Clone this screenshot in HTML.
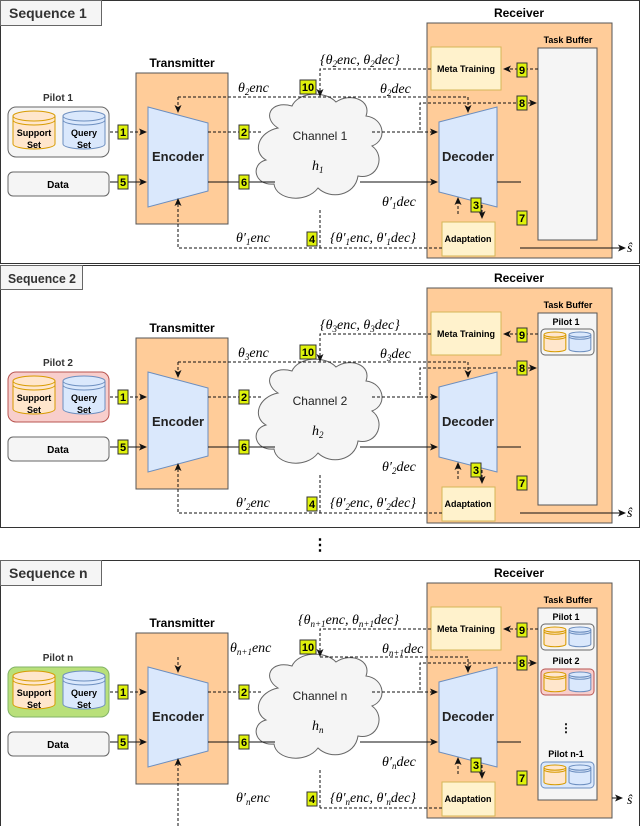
<!DOCTYPE html>
<html><head><meta charset="utf-8"><style>
html,body{margin:0;padding:0;background:#fff}
svg{display:block}
text{font-family:"Liberation Sans",sans-serif}
.b{font-weight:bold}
.m{font-family:"Liberation Serif",serif;font-style:italic;font-size:14px}
.d{stroke:#111;stroke-width:1;stroke-dasharray:3,2;fill:none}
.s{stroke:#111;stroke-width:1;fill:none}
.bg{fill:#dff20b;stroke:#333;stroke-width:1}
</style></head><body>
<svg width="640" height="826" viewBox="0 0 640 826" xmlns="http://www.w3.org/2000/svg">
<defs>
<marker id="a" markerWidth="8" markerHeight="8" refX="7" refY="4" orient="auto" markerUnits="userSpaceOnUse"><path d="M0,0.5 L8,4 L0,7.5 L2,4 z" fill="#111"/></marker>
<g id="cyl">
<path d="M0,5 v28 a21,5 0 0 0 42,0 v-28" />
<ellipse cx="21" cy="5" rx="21" ry="5"/>
<path d="M0,9 a21,5 0 0 0 42,0" fill="none"/>
</g>
<g id="cloud"><path d="M278,128 C262,118 270,100 292,106 C298,92 325,90 336,102 C350,92 372,100 366,116 C384,118 388,140 372,146 C386,156 378,180 358,176 C355,196 330,200 318,188 C306,204 276,200 274,184 C254,186 250,164 266,160 C252,152 258,132 278,128 z" fill="#f5f5f5" stroke="#666"/></g>
</defs>

<rect x="0.5" y="0.5" width="639" height="263" fill="#fff" stroke="#333"/>
<rect x="0.5" y="265.5" width="639" height="262" fill="#fff" stroke="#333"/>
<path d="M0.5,826 V560.5 H639.5 V826" fill="#fff" stroke="#333"/>
<text x="320" y="550" text-anchor="middle" font-size="16" class="b">⋮</text>

<!-- Section 1 -->
<g transform="translate(0,0)">
<rect x="0.5" y="0.5" width="101" height="25" fill="#f5f5f5" stroke="#666"/>
<text x="9" y="18" font-size="14" class="b" fill="#333">Sequence 1</text>
<text x="182" y="67" font-size="12" class="b" text-anchor="middle">Transmitter</text>
<rect x="136" y="73" width="92" height="151" fill="#ffcc99" stroke="#555"/>
<path d="M148,107 L208,123 L208,191 L148,207 z" fill="#dae8fc" stroke="#6c8ebf"/>
<text x="178" y="161" font-size="13" class="b" text-anchor="middle" fill="#222">Encoder</text>
<text x="58" y="101" font-size="10" class="b" text-anchor="middle" fill="#333">Pilot 1</text>
<rect x="8" y="107" width="101" height="50" rx="8" fill="#f5f5f5" stroke="#666"/>
<g transform="translate(13,111)" fill="#ffe6cc" stroke="#d79b00"><use href="#cyl"/></g>
<g transform="translate(63,111)" fill="#dae8fc" stroke="#6c8ebf"><use href="#cyl"/></g>
<text x="34" y="136" font-size="9" class="b" text-anchor="middle">Support</text><text x="34" y="148" font-size="9" class="b" text-anchor="middle">Set</text>
<text x="84" y="136" font-size="9" class="b" text-anchor="middle">Query</text><text x="84" y="148" font-size="9" class="b" text-anchor="middle">Set</text>
<rect x="8" y="172" width="101" height="24" rx="5" fill="#f5f5f5" stroke="#666"/>
<text x="58" y="188" font-size="10" class="b" text-anchor="middle">Data</text>
<use href="#cloud"/>
<text x="320" y="140" font-size="12" text-anchor="middle" fill="#222">Channel 1</text>
<text x="312" y="170" class="m">h<tspan font-size="9" dy="3">1</tspan></text>
<rect x="427" y="23" width="185" height="235" fill="#ffcc99" stroke="#555"/>
<text x="519" y="17" font-size="12" class="b" text-anchor="middle">Receiver</text>
<rect x="431" y="47" width="70" height="43" fill="#fff2cc" stroke="#d6b656"/>
<text x="466" y="72" font-size="9" class="b" text-anchor="middle">Meta Training</text>
<text x="568" y="43" font-size="9" class="b" text-anchor="middle">Task Buffer</text>
<rect x="538" y="48" width="59" height="192" fill="#f5f5f5" stroke="#555"/>
<path d="M439,122 L497,107 L497,207 L439,192 z" fill="#dae8fc" stroke="#6c8ebf"/>
<text x="468" y="161" font-size="13" class="b" text-anchor="middle" fill="#222">Decoder</text>
<rect x="442" y="222" width="53" height="34" fill="#fff2cc" stroke="#d6b656"/>
<text x="468" y="242" font-size="9" class="b" text-anchor="middle">Adaptation</text>
<path class="d" d="M110,132 H146" marker-end="url(#a)"/>
<path class="s" d="M110,182 H146" marker-end="url(#a)"/>
<path class="d" d="M208,132 H262"/>
<path class="s" d="M208,182 H275"/>
<path class="d" d="M372,132 H420 V103 H536" marker-end="url(#a)"/>
<path class="d" d="M420,132 H437" marker-end="url(#a)"/>
<path class="s" d="M360,182 H437" marker-end="url(#a)"/>
<path class="s" d="M497,182 H521"/>
<path class="s" d="M520,248 H625" marker-end="url(#a)"/>
<text x="627" y="252" class="m">ŝ</text>
<path class="d" d="M538,69 H504" marker-end="url(#a)"/>
<path class="d" d="M431,69 H320 V96" marker-end="url(#a)"/>
<path class="d" d="M178,97 H468 V112" marker-end="url(#a)"/>
<path class="d" d="M178,97 V112" marker-end="url(#a)"/>
<path class="d" d="M458,214 V198" marker-end="url(#a)"/>
<path class="d" d="M482,205 V218" marker-end="url(#a)"/>
<path class="d" d="M442,248 H320 H178 V199" marker-end="url(#a)"/>
<path class="d" d="M320,210 V248"/>
<text x="238" y="92" class="m">θ<tspan font-size="9" dy="3">2</tspan><tspan dy="-3">enc</tspan></text>
<text x="380" y="93" class="m">θ<tspan font-size="9" dy="3">2</tspan><tspan dy="-3">dec</tspan></text>
<text x="320" y="64" class="m">{θ<tspan font-size="9" dy="3">2</tspan><tspan dy="-3">enc, θ</tspan><tspan font-size="9" dy="3">2</tspan><tspan dy="-3">dec}</tspan></text>
<text x="382" y="206" class="m">θ′<tspan font-size="9" dy="3">1</tspan><tspan dy="-3">dec</tspan></text>
<text x="236" y="242" class="m">θ′<tspan font-size="9" dy="3">1</tspan><tspan dy="-3">enc</tspan></text>
<text x="330" y="242" class="m">{θ′<tspan font-size="9" dy="3">1</tspan><tspan dy="-3">enc, θ′</tspan><tspan font-size="9" dy="3">1</tspan><tspan dy="-3">dec}</tspan></text>
<g font-size="11" class="b">
<rect class="bg" x="118" y="125" width="10" height="14"/><text x="123" y="136" text-anchor="middle">1</text>
<rect class="bg" x="118" y="175" width="10" height="14"/><text x="123" y="186" text-anchor="middle">5</text>
<rect class="bg" x="239" y="125" width="10" height="14"/><text x="244" y="136" text-anchor="middle">2</text>
<rect class="bg" x="239" y="175" width="10" height="14"/><text x="244" y="186" text-anchor="middle">6</text>
<rect class="bg" x="300" y="80" width="16" height="14"/><text x="308" y="91" text-anchor="middle">10</text>
<rect class="bg" x="307" y="232" width="10" height="14"/><text x="312" y="243" text-anchor="middle">4</text>
<rect class="bg" x="517" y="63" width="10" height="14"/><text x="522" y="74" text-anchor="middle">9</text>
<rect class="bg" x="517" y="96" width="10" height="14"/><text x="522" y="107" text-anchor="middle">8</text>
<rect class="bg" x="517" y="211" width="10" height="14"/><text x="522" y="222" text-anchor="middle">7</text>
<rect class="bg" x="471" y="198" width="10" height="14"/><text x="476" y="209" text-anchor="middle">3</text>
</g>
</g>

<!-- Section 2 -->
<g transform="translate(0,265)">
<rect x="0.5" y="0.5" width="82" height="24" fill="#f5f5f5" stroke="#666"/>
<text x="8" y="18" font-size="13" class="b" fill="#333" textLength="68" lengthAdjust="spacingAndGlyphs">Sequence 2</text>
<text x="182" y="67" font-size="12" class="b" text-anchor="middle">Transmitter</text>
<rect x="136" y="73" width="92" height="151" fill="#ffcc99" stroke="#555"/>
<path d="M148,107 L208,123 L208,191 L148,207 z" fill="#dae8fc" stroke="#6c8ebf"/>
<text x="178" y="161" font-size="13" class="b" text-anchor="middle" fill="#222">Encoder</text>
<text x="58" y="101" font-size="10" class="b" text-anchor="middle" fill="#333">Pilot 2</text>
<rect x="8" y="107" width="101" height="50" rx="8" fill="#f8cecc" stroke="#b85450"/>
<g transform="translate(13,111)" fill="#ffe6cc" stroke="#d79b00"><use href="#cyl"/></g>
<g transform="translate(63,111)" fill="#dae8fc" stroke="#6c8ebf"><use href="#cyl"/></g>
<text x="34" y="136" font-size="9" class="b" text-anchor="middle">Support</text><text x="34" y="148" font-size="9" class="b" text-anchor="middle">Set</text>
<text x="84" y="136" font-size="9" class="b" text-anchor="middle">Query</text><text x="84" y="148" font-size="9" class="b" text-anchor="middle">Set</text>
<rect x="8" y="172" width="101" height="24" rx="5" fill="#f5f5f5" stroke="#666"/>
<text x="58" y="188" font-size="10" class="b" text-anchor="middle">Data</text>
<use href="#cloud"/>
<text x="320" y="140" font-size="12" text-anchor="middle" fill="#222">Channel 2</text>
<text x="312" y="170" class="m">h<tspan font-size="9" dy="3">2</tspan></text>
<rect x="427" y="23" width="185" height="235" fill="#ffcc99" stroke="#555"/>
<text x="519" y="17" font-size="12" class="b" text-anchor="middle">Receiver</text>
<rect x="431" y="47" width="70" height="43" fill="#fff2cc" stroke="#d6b656"/>
<text x="466" y="72" font-size="9" class="b" text-anchor="middle">Meta Training</text>
<text x="568" y="43" font-size="9" class="b" text-anchor="middle">Task Buffer</text>
<rect x="538" y="48" width="59" height="192" fill="#f5f5f5" stroke="#555"/>
<text x="566" y="60" font-size="9" class="b" text-anchor="middle">Pilot 1</text>
<rect x="541" y="64" width="53" height="26" rx="4" fill="#f5f5f5" stroke="#666"/>
<g transform="translate(544,67) scale(0.52)" fill="#ffe6cc" stroke="#d79b00" stroke-width="2"><use href="#cyl"/></g>
<g transform="translate(569,67) scale(0.52)" fill="#dae8fc" stroke="#6c8ebf" stroke-width="2"><use href="#cyl"/></g>
<path d="M439,122 L497,107 L497,207 L439,192 z" fill="#dae8fc" stroke="#6c8ebf"/>
<text x="468" y="161" font-size="13" class="b" text-anchor="middle" fill="#222">Decoder</text>
<rect x="442" y="222" width="53" height="34" fill="#fff2cc" stroke="#d6b656"/>
<text x="468" y="242" font-size="9" class="b" text-anchor="middle">Adaptation</text>
<path class="d" d="M110,132 H146" marker-end="url(#a)"/>
<path class="s" d="M110,182 H146" marker-end="url(#a)"/>
<path class="d" d="M208,132 H262"/>
<path class="s" d="M208,182 H275"/>
<path class="d" d="M372,132 H420 V103 H536" marker-end="url(#a)"/>
<path class="d" d="M420,132 H437" marker-end="url(#a)"/>
<path class="s" d="M360,182 H437" marker-end="url(#a)"/>
<path class="s" d="M497,182 H521"/>
<path class="s" d="M520,248 H625" marker-end="url(#a)"/>
<text x="627" y="252" class="m">ŝ</text>
<path class="d" d="M538,69 H504" marker-end="url(#a)"/>
<path class="d" d="M431,69 H320 V96" marker-end="url(#a)"/>
<path class="d" d="M178,97 H468 V112" marker-end="url(#a)"/>
<path class="d" d="M178,97 V112" marker-end="url(#a)"/>
<path class="d" d="M458,214 V198" marker-end="url(#a)"/>
<path class="d" d="M482,205 V218" marker-end="url(#a)"/>
<path class="d" d="M442,248 H178 V199" marker-end="url(#a)"/>
<path class="d" d="M320,210 V248"/>
<text x="238" y="92" class="m">θ<tspan font-size="9" dy="3">3</tspan><tspan dy="-3">enc</tspan></text>
<text x="380" y="93" class="m">θ<tspan font-size="9" dy="3">3</tspan><tspan dy="-3">dec</tspan></text>
<text x="320" y="64" class="m">{θ<tspan font-size="9" dy="3">3</tspan><tspan dy="-3">enc, θ</tspan><tspan font-size="9" dy="3">3</tspan><tspan dy="-3">dec}</tspan></text>
<text x="382" y="206" class="m">θ′<tspan font-size="9" dy="3">2</tspan><tspan dy="-3">dec</tspan></text>
<text x="236" y="242" class="m">θ′<tspan font-size="9" dy="3">2</tspan><tspan dy="-3">enc</tspan></text>
<text x="330" y="242" class="m">{θ′<tspan font-size="9" dy="3">2</tspan><tspan dy="-3">enc, θ′</tspan><tspan font-size="9" dy="3">2</tspan><tspan dy="-3">dec}</tspan></text>
<g font-size="11" class="b">
<rect class="bg" x="118" y="125" width="10" height="14"/><text x="123" y="136" text-anchor="middle">1</text>
<rect class="bg" x="118" y="175" width="10" height="14"/><text x="123" y="186" text-anchor="middle">5</text>
<rect class="bg" x="239" y="125" width="10" height="14"/><text x="244" y="136" text-anchor="middle">2</text>
<rect class="bg" x="239" y="175" width="10" height="14"/><text x="244" y="186" text-anchor="middle">6</text>
<rect class="bg" x="300" y="80" width="16" height="14"/><text x="308" y="91" text-anchor="middle">10</text>
<rect class="bg" x="307" y="232" width="10" height="14"/><text x="312" y="243" text-anchor="middle">4</text>
<rect class="bg" x="517" y="63" width="10" height="14"/><text x="522" y="74" text-anchor="middle">9</text>
<rect class="bg" x="517" y="96" width="10" height="14"/><text x="522" y="107" text-anchor="middle">8</text>
<rect class="bg" x="517" y="211" width="10" height="14"/><text x="522" y="222" text-anchor="middle">7</text>
<rect class="bg" x="471" y="198" width="10" height="14"/><text x="476" y="209" text-anchor="middle">3</text>
</g>
</g>

<!-- Section n -->
<g transform="translate(0,560)">
<rect x="0.5" y="0.5" width="101" height="25" fill="#f5f5f5" stroke="#666"/>
<text x="9" y="18" font-size="14" class="b" fill="#333">Sequence n</text>
<text x="182" y="67" font-size="12" class="b" text-anchor="middle">Transmitter</text>
<rect x="136" y="73" width="92" height="151" fill="#ffcc99" stroke="#555"/>
<path d="M148,107 L208,123 L208,191 L148,207 z" fill="#dae8fc" stroke="#6c8ebf"/>
<text x="178" y="161" font-size="13" class="b" text-anchor="middle" fill="#222">Encoder</text>
<text x="58" y="101" font-size="10" class="b" text-anchor="middle" fill="#333">Pilot n</text>
<rect x="8" y="107" width="101" height="50" rx="8" fill="#b9e07a" stroke="#82b366"/>
<g transform="translate(13,111)" fill="#ffe6cc" stroke="#d79b00"><use href="#cyl"/></g>
<g transform="translate(63,111)" fill="#dae8fc" stroke="#6c8ebf"><use href="#cyl"/></g>
<text x="34" y="136" font-size="9" class="b" text-anchor="middle">Support</text><text x="34" y="148" font-size="9" class="b" text-anchor="middle">Set</text>
<text x="84" y="136" font-size="9" class="b" text-anchor="middle">Query</text><text x="84" y="148" font-size="9" class="b" text-anchor="middle">Set</text>
<rect x="8" y="172" width="101" height="24" rx="5" fill="#f5f5f5" stroke="#666"/>
<text x="58" y="188" font-size="10" class="b" text-anchor="middle">Data</text>
<use href="#cloud"/>
<text x="320" y="140" font-size="12" text-anchor="middle" fill="#222">Channel n</text>
<text x="312" y="170" class="m">h<tspan font-size="9" dy="3">n</tspan></text>
<rect x="427" y="23" width="185" height="235" fill="#ffcc99" stroke="#555"/>
<text x="519" y="17" font-size="12" class="b" text-anchor="middle">Receiver</text>
<rect x="431" y="47" width="70" height="43" fill="#fff2cc" stroke="#d6b656"/>
<text x="466" y="72" font-size="9" class="b" text-anchor="middle">Meta Training</text>
<text x="568" y="43" font-size="9" class="b" text-anchor="middle">Task Buffer</text>
<rect x="538" y="48" width="59" height="192" fill="#f5f5f5" stroke="#555"/>
<text x="566" y="60" font-size="9" class="b" text-anchor="middle">Pilot 1</text>
<rect x="541" y="64" width="53" height="26" rx="4" fill="#f5f5f5" stroke="#666"/>
<g transform="translate(544,67) scale(0.52)" fill="#ffe6cc" stroke="#d79b00" stroke-width="2"><use href="#cyl"/></g>
<g transform="translate(569,67) scale(0.52)" fill="#dae8fc" stroke="#6c8ebf" stroke-width="2"><use href="#cyl"/></g>
<text x="566" y="104" font-size="9" class="b" text-anchor="middle">Pilot 2</text>
<rect x="541" y="109" width="53" height="26" rx="4" fill="#f8cecc" stroke="#b85450"/>
<g transform="translate(544,112) scale(0.52)" fill="#ffe6cc" stroke="#d79b00" stroke-width="2"><use href="#cyl"/></g>
<g transform="translate(569,112) scale(0.52)" fill="#dae8fc" stroke="#6c8ebf" stroke-width="2"><use href="#cyl"/></g>
<text x="566" y="172" font-size="12" class="b" text-anchor="middle">⋮</text>
<text x="566" y="197" font-size="9" class="b" text-anchor="middle">Pilot n-1</text>
<rect x="541" y="202" width="53" height="26" rx="4" fill="#dae8fc" stroke="#6c8ebf"/>
<g transform="translate(544,205) scale(0.52)" fill="#ffe6cc" stroke="#d79b00" stroke-width="2"><use href="#cyl"/></g>
<g transform="translate(569,205) scale(0.52)" fill="#dae8fc" stroke="#6c8ebf" stroke-width="2"><use href="#cyl"/></g>
<path d="M439,122 L497,107 L497,207 L439,192 z" fill="#dae8fc" stroke="#6c8ebf"/>
<text x="468" y="161" font-size="13" class="b" text-anchor="middle" fill="#222">Decoder</text>
<rect x="442" y="222" width="53" height="34" fill="#fff2cc" stroke="#d6b656"/>
<text x="468" y="242" font-size="9" class="b" text-anchor="middle">Adaptation</text>
<path class="d" d="M110,132 H146" marker-end="url(#a)"/>
<path class="s" d="M110,182 H146" marker-end="url(#a)"/>
<path class="d" d="M208,132 H262"/>
<path class="s" d="M208,182 H275"/>
<path class="d" d="M372,132 H420 V103 H536" marker-end="url(#a)"/>
<path class="d" d="M420,132 H437" marker-end="url(#a)"/>
<path class="s" d="M360,182 H437" marker-end="url(#a)"/>
<path class="s" d="M497,182 H521"/>
<path class="s" d="M612,238 H622" marker-end="url(#a)"/>
<text x="627" y="244" class="m">ŝ</text>
<path class="d" d="M538,69 H504" marker-end="url(#a)"/>
<path class="d" d="M431,69 H320 V96" marker-end="url(#a)"/>
<path class="d" d="M320,97 H468 V112" marker-end="url(#a)"/>
<path class="d" d="M178,97 V112" marker-end="url(#a)"/>
<path class="d" d="M458,214 V198" marker-end="url(#a)"/>
<path class="d" d="M482,205 V218" marker-end="url(#a)"/>
<path class="d" d="M442,248 H320"/>
<path class="d" d="M320,210 V248"/>
<path class="d" d="M178,266 V199" marker-end="url(#a)"/>
<text x="230" y="92" class="m">θ<tspan font-size="9" dy="3">n+1</tspan><tspan dy="-3">enc</tspan></text>
<text x="382" y="93" class="m">θ<tspan font-size="9" dy="3">n+1</tspan><tspan dy="-3">dec</tspan></text>
<text x="298" y="64" class="m">{θ<tspan font-size="9" dy="3">n+1</tspan><tspan dy="-3">enc, θ</tspan><tspan font-size="9" dy="3">n+1</tspan><tspan dy="-3">dec}</tspan></text>
<text x="382" y="206" class="m">θ′<tspan font-size="9" dy="3">n</tspan><tspan dy="-3">dec</tspan></text>
<text x="236" y="242" class="m">θ′<tspan font-size="9" dy="3">n</tspan><tspan dy="-3">enc</tspan></text>
<text x="330" y="242" class="m">{θ′<tspan font-size="9" dy="3">n</tspan><tspan dy="-3">enc, θ′</tspan><tspan font-size="9" dy="3">n</tspan><tspan dy="-3">dec}</tspan></text>
<g font-size="11" class="b">
<rect class="bg" x="118" y="125" width="10" height="14"/><text x="123" y="136" text-anchor="middle">1</text>
<rect class="bg" x="118" y="175" width="10" height="14"/><text x="123" y="186" text-anchor="middle">5</text>
<rect class="bg" x="239" y="125" width="10" height="14"/><text x="244" y="136" text-anchor="middle">2</text>
<rect class="bg" x="239" y="175" width="10" height="14"/><text x="244" y="186" text-anchor="middle">6</text>
<rect class="bg" x="300" y="80" width="16" height="14"/><text x="308" y="91" text-anchor="middle">10</text>
<rect class="bg" x="307" y="232" width="10" height="14"/><text x="312" y="243" text-anchor="middle">4</text>
<rect class="bg" x="517" y="63" width="10" height="14"/><text x="522" y="74" text-anchor="middle">9</text>
<rect class="bg" x="517" y="96" width="10" height="14"/><text x="522" y="107" text-anchor="middle">8</text>
<rect class="bg" x="517" y="211" width="10" height="14"/><text x="522" y="222" text-anchor="middle">7</text>
<rect class="bg" x="471" y="198" width="10" height="14"/><text x="476" y="209" text-anchor="middle">3</text>
</g>
</g>
</svg>
</body></html>
